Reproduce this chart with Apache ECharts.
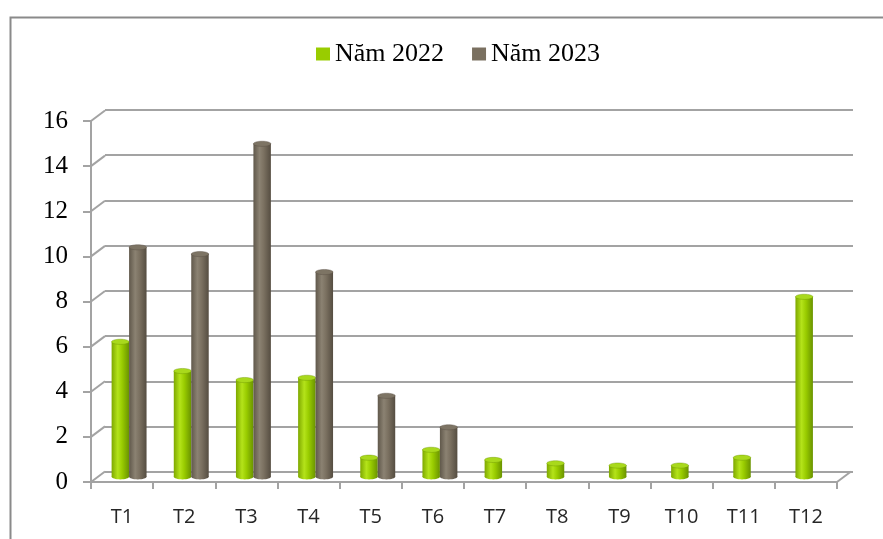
<!DOCTYPE html>
<html>
<head>
<meta charset="utf-8">
<script src="https://cdn.jsdelivr.net/npm/echarts@6/dist/echarts.min.js"></script>
<style>html,body{margin:0;padding:0;background:#fff;}#c{width:883px;height:539px;}</style>
</head>
<body>
<div id="c"></div>
<script>
const categories = ['T1','T2','T3','T4','T5','T6','T7','T8','T9','T10','T11','T12'];
const values2022 = [6.0, 4.7, 4.3, 4.4, 0.85, 1.2, 0.75, 0.6, 0.5, 0.5, 0.85, 8.0];
const values2023 = [10.2, 9.9, 14.8, 9.1, 3.6, 2.2, null, null, null, null, null, null];
const yTicks = [0, 2, 4, 6, 8, 10, 12, 14, 16];
const seriesNames = ['Năm 2022', 'Năm 2023'];

const chart = echarts.init(document.getElementById('c'), null, {renderer: 'canvas'});

const palettes = [
  {base: '#99CC00', left: '#7ea800', hi: '#b4e31a', right: '#6a9300', top: '#a9d91c'},
  {base: '#7A7060', left: '#60584b', hi: '#8b8272', right: '#554d41', top: '#7d7464'}
];
const DEPTH_X = 14, DEPTH_Y = -10.5;
const GRID_COLOR = '#a3a3a3';

function cylinder(seriesIdx) {
  const pal = palettes[seriesIdx];
  return function (params, api) {
    const v = api.value(1);
    if (v === null || v === undefined || isNaN(v)) return null;
    const idx = api.value(0);
    const base = api.coord([idx, 0]);
    const top = api.coord([idx, v]);
    const band = api.size([1, 0])[0];
    const w = band * 0.281;
    const cx = base[0] + (seriesIdx === 0 ? -w / 2 : w / 2);
    const ry = 2.6;
    const grad = new echarts.graphic.LinearGradient(0, 0, 1, 0, [
      {offset: 0, color: pal.left},
      {offset: 0.35, color: pal.hi},
      {offset: 0.6, color: pal.base},
      {offset: 1, color: pal.right}
    ]);
    return {
      type: 'group',
      children: [
        {type: 'ellipse', shape: {cx: cx, cy: base[1], rx: w / 2, ry: ry}, style: {fill: grad}},
        {type: 'rect', shape: {x: cx - w / 2, y: top[1], width: w, height: base[1] - top[1]}, style: {fill: grad}},
        {type: 'ellipse', shape: {cx: cx, cy: top[1], rx: w / 2, ry: ry}, style: {fill: pal.top, stroke: pal.right, lineWidth: 0.4}}
      ]
    };
  };
}

function depthLines(params, api) {
  const v = api.value(1);
  const p = api.coord([0, v]);
  const band = api.size([1, 0])[0];
  const xl = p[0] - band / 2;
  const children = [{
    type: 'line',
    shape: {x1: xl, y1: p[1], x2: xl + DEPTH_X, y2: p[1] + DEPTH_Y},
    style: {stroke: GRID_COLOR, lineWidth: 2}
  }];
  if (v === 0) {
    const pr = api.coord([categories.length - 1, 0]);
    const xr = pr[0] + band / 2;
    children.push({
      type: 'line',
      shape: {x1: xr, y1: pr[1], x2: xr + DEPTH_X, y2: pr[1] + DEPTH_Y},
      style: {stroke: GRID_COLOR, lineWidth: 2}
    });
  }
  return {type: 'group', children: children};
}

const option = {
  animation: false,
  backgroundColor: '#ffffff',
  graphic: [{
    type: 'rect', left: 8, top: 15,
    shape: {x: 0, y: 0, width: 900, height: 600},
    style: {fill: 'none', stroke: '#8a8a8a', lineWidth: 2}, z: -10
  }],
  legend: {
    data: seriesNames,
    left: 311, top: 36,
    itemWidth: 14, itemHeight: 13, itemGap: 28,
    icon: 'rect',
    textStyle: {fontFamily: 'Liberation Serif', fontSize: 26, color: '#000'}
  },
  grid: [
    {left: 98, right: 39, top: 116.8, bottom: 62.2},   // bars (mid depth)
    {left: 105, right: 30, top: 110, bottom: 67.3},    // back wall
    {left: 91, right: 46, top: 121, bottom: 57}        // front axes
  ],
  xAxis: [
    {gridIndex: 0, type: 'category', data: categories, show: false},
    {gridIndex: 1, type: 'category', data: categories, show: false},
    {gridIndex: 2, type: 'category', data: categories,
      axisLine: {lineStyle: {color: GRID_COLOR, width: 2}},
      axisTick: {show: true, length: 7, lineStyle: {color: GRID_COLOR, width: 2}},
      axisLabel: {fontFamily: 'Open Sans', fontSize: 20, color: '#262626', margin: 25},
      splitLine: {show: false}}
  ],
  yAxis: [
    {gridIndex: 0, type: 'value', min: 0, max: 16, interval: 2, show: false},
    {gridIndex: 1, type: 'value', min: 0, max: 16, interval: 2,
      axisLine: {show: false}, axisTick: {show: false}, axisLabel: {show: false},
      splitLine: {show: true, lineStyle: {color: GRID_COLOR, width: 2}}},
    {gridIndex: 2, type: 'value', min: 0, max: 16, interval: 2,
      axisLine: {show: true, lineStyle: {color: GRID_COLOR, width: 2}},
      axisTick: {show: true, length: 8, lineStyle: {color: GRID_COLOR, width: 2}},
      axisLabel: {fontFamily: 'Liberation Serif', fontSize: 25, color: '#000', margin: 23},
      splitLine: {show: false}}
  ],
  series: [
    {type: 'custom', name: '_depth', xAxisIndex: 2, yAxisIndex: 2,
      data: yTicks.map(v => [0, v]), renderItem: depthLines, silent: true, z: 1},
    {type: 'custom', name: seriesNames[0], xAxisIndex: 0, yAxisIndex: 0,
      itemStyle: {color: palettes[0].base},
      data: values2022.map((v, i) => [i, v]), renderItem: cylinder(0), z: 5},
    {type: 'custom', name: seriesNames[1], xAxisIndex: 0, yAxisIndex: 0,
      itemStyle: {color: palettes[1].base},
      data: values2023.map((v, i) => [i, v]), renderItem: cylinder(1), z: 5}
  ]
};
chart.setOption(option);
</script>
</body>
</html>
